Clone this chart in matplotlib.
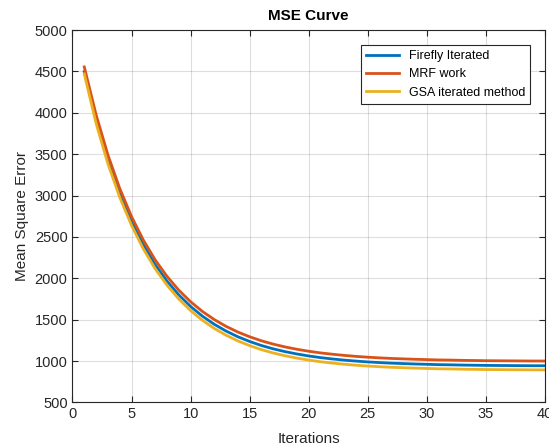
import matplotlib
matplotlib.use('Agg')
import matplotlib.pyplot as plt

plt.rcParams['font.family'] = ['Liberation Sans', 'DejaVu Sans']

# MSE per iteration for the three methods
iterations = list(range(1, 41))
firefly = [4497, 3919, 3434, 3029, 2689, 2405, 2166, 1967, 1800, 1660,
           1543, 1445, 1363, 1294, 1237, 1188, 1148, 1114, 1086, 1062,
           1042, 1026, 1012, 1000, 990, 982, 975, 970, 965, 961,
           957, 955, 952, 950, 948, 947, 946, 945, 944, 944]
mrf = [4554, 3976, 3491, 3086, 2746, 2462, 2223, 2024, 1857, 1717,
       1600, 1502, 1420, 1351, 1294, 1245, 1205, 1171, 1143, 1119,
       1099, 1083, 1069, 1057, 1047, 1039, 1032, 1027, 1022, 1018,
       1014, 1012, 1009, 1007, 1005, 1004, 1003, 1002, 1001, 1001]
gsa = [4470, 3872, 3384, 2979, 2639, 2355, 2116, 1917, 1750, 1610,
       1493, 1395, 1313, 1244, 1187, 1138, 1098, 1064, 1036, 1012,
       992, 976, 962, 950, 940, 932, 925, 920, 915, 911,
       907, 905, 902, 900, 898, 897, 896, 895, 894, 894]

fig = plt.figure(figsize=(5.49, 4.48), dpi=100)
ax = fig.add_axes([0.132, 0.1016, 0.8607, 0.8314])

ax.plot(iterations, firefly, color='#0072BD', linewidth=2, label='Firefly Iterated')
ax.plot(iterations, mrf, color='#D95319', linewidth=2, label='MRF work')
ax.plot(iterations, gsa, color='#EDB120', linewidth=2, label='GSA iterated method')

ax.set_xlim(0, 40)
ax.set_ylim(500, 5000)
ax.set_xticks(range(0, 41, 5))
ax.set_yticks(range(500, 5001, 500))
ax.grid(True, color='#262626', alpha=0.15, linewidth=0.8)
ax.tick_params(direction='in', top=True, right=True, labelsize=10.5,
               colors='#262626', length=4)
for s in ax.spines.values():
    s.set_color('#262626')
    s.set_linewidth(0.8)

ax.set_title('MSE Curve', fontsize=11, fontweight='bold', color='black', pad=7)
ax.set_xlabel('Iterations', fontsize=11, color='#262626', labelpad=8)
ax.set_ylabel('Mean Square Error', fontsize=11, color='#262626', labelpad=4)

leg = ax.legend(loc='upper right', fontsize=9, fancybox=False, framealpha=1,
                edgecolor='#262626', borderaxespad=1.2, handlelength=2.6,
                labelspacing=0.5, borderpad=0.4)
leg.get_frame().set_linewidth(0.8)

fig.savefig('out.png', dpi=100)
